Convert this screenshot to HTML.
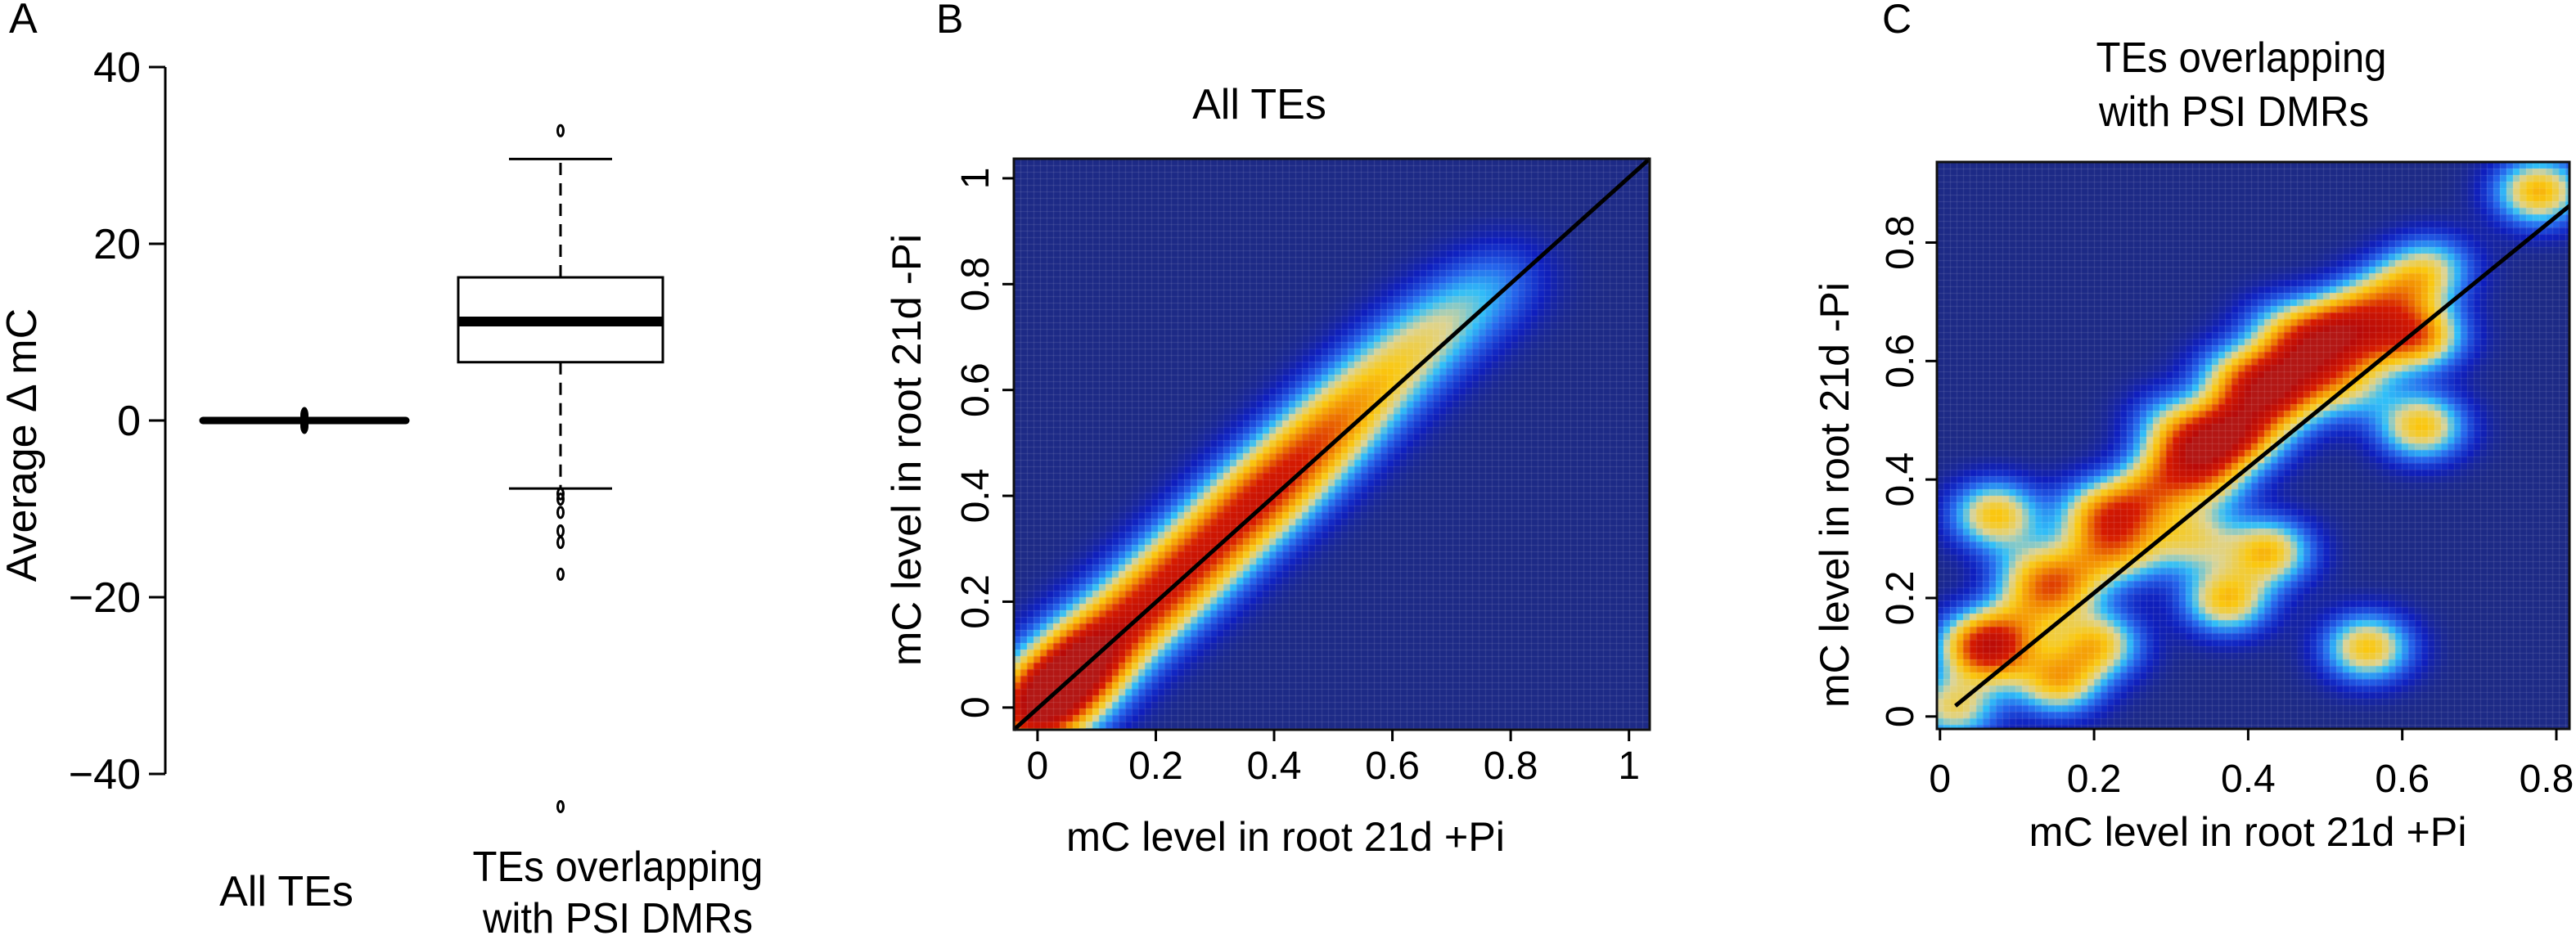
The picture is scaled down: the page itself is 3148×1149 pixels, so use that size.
<!DOCTYPE html>
<html><head><meta charset="utf-8">
<style>
html,body{margin:0;padding:0;background:#fff;}
svg{display:block;font-family:"Liberation Sans",sans-serif;}
</style></head>
<body>
<svg id="fig" width="3148" height="1149" viewBox="0 0 3148 1149" xmlns="http://www.w3.org/2000/svg">
<g id="panelA"></g>
<g id="panelB"></g>
<g id="panelC"></g>
</svg>
<script>
// ---------- Panel A data ----------
const boxCategories = ["All TEs", "TEs overlapping|with PSI DMRs"];
const boxQ1 = [0, 6.6];
const boxMedian = [0, 11.2];
const boxQ3 = [0, 16.2];
const boxWhiskerLow = [0, -7.7];
const boxWhiskerHigh = [0, 29.6];
const outliersAll = [0.6, -0.6, 0.3, -0.3];
const outliersPSI = [32.8, -8.3, -8.9, -10.4, -12.5, -13.8, -17.4, -43.7];
const aTicks = [40, 20, 0, -20, -40];

// ---------- Panel B data (ridge of density along diagonal) ----------
const bRidgeX = [-0.02,0.01,0.04,0.07,0.1,0.15,0.2,0.25,0.3,0.35,0.4,0.45,0.5,0.55,0.6,0.65,0.7,0.75,0.8];
const bRidgeY = [-0.02,0.01,0.04,0.075,0.11,0.16,0.21,0.262,0.315,0.37,0.42,0.475,0.53,0.585,0.64,0.69,0.735,0.78,0.82];
const bRidgeW = [0.8,0.8,0.8,0.8,0.85,0.85,0.85,0.85,0.85,0.85,0.85,0.8,0.72,0.6,0.5,0.42,0.34,0.26,0.16];
const bTicks = [0, 0.2, 0.4, 0.6, 0.8, 1];
const bTickLabels = ["0", "0.2", "0.4", "0.6", "0.8", "1"];

// ---------- Panel C data (density blobs) ----------
const cBlobX = [0.777,0.072,0.372,0.426,0.555,0.625,0.625,0.33,0.204,0.153,0.053,0.018,0.10,0.07,0.12,
  0.16,0.2,0.22,0.26,0.29,0.32,0.35,0.38,0.41,0.44,0.47,0.50,0.53,0.57,0.61,0.64,
  0.35,0.40,0.45,0.50,0.55,0.30,0.38,0.44,0.25,0.20,0.13,0.54,0.59];
const cBlobY = [0.886,0.34,0.197,0.278,0.116,0.49,0.643,0.30,0.122,0.06,0.122,0.016,0.15,0.10,0.25,
  0.22,0.27,0.33,0.36,0.40,0.45,0.46,0.50,0.55,0.58,0.62,0.65,0.67,0.70,0.73,0.76,
  0.40,0.47,0.53,0.58,0.62,0.50,0.58,0.66,0.28,0.35,0.20,0.55,0.64];
const cBlobW = [0.45,0.42,0.42,0.42,0.42,0.42,0.42,0.30,0.40,0.42,0.45,0.35,0.22,0.25,0.20,
  0.28,0.25,0.28,0.28,0.28,0.28,0.30,0.30,0.28,0.28,0.28,0.28,0.26,0.25,0.24,0.22,
  0.28,0.28,0.28,0.26,0.22,0.18,0.20,0.16,0.22,0.18,0.20,0.16,0.16];
const cXTicks = [0, 0.2, 0.4, 0.6, 0.8];
const cXTickLabels = ["0", "0.2", "0.4", "0.6", "0.8"];
const cYTicks = [0, 0.2, 0.4, 0.6, 0.8];
const cYTickLabels = ["0", "0.2", "0.4", "0.6", "0.8"];

const NS = "http://www.w3.org/2000/svg";
function mk(parent, tag, attrs, text) {
  const e = document.createElementNS(NS, tag);
  for (const k in attrs) e.setAttribute(k, attrs[k]);
  if (text !== undefined) e.textContent = text;
  parent.appendChild(e);
  return e;
}

// ================= Panel A =================
(function(){
  const g = document.getElementById("panelA");
  const y = v => 514 - v * 10.8;
  const xc = [372, 685];
  const halfW = [124, 125];
  let t = mk(g, "text", {x: 11, y: 40, "font-size": 52}, "A");
  
  
  let ax = mk(g, "line", {x1: 202, x2: 202, y1: y(40), y2: y(-40), stroke: "#000", "stroke-width": 3});
  
  
  aTicks.forEach(v => {
    const tk = mk(g, "line", {x1: 182, x2: 202, y1: y(v), y2: y(v), stroke: "#000", "stroke-width": 3});
    
    
    const lb = mk(g, "text", {x: 172, y: y(v) + 18, "font-size": 52, "text-anchor": "end"}, v < 0 ? "\u2212" + Math.abs(v) : String(v));
    
    
  });
  const yt = mk(g, "text", {x: 0, y: 0, "font-size": 52, "text-anchor": "middle", transform: "translate(44,544) rotate(-90)"}, "Average \u0394 mC");
  
  

  const i0 = 0;
  const flat = mk(g, "line", {x1: xc[i0]-halfW[i0], x2: xc[i0]+halfW[i0], y1: y(boxMedian[i0]), y2: y(boxMedian[i0]), stroke: "#000", "stroke-width": 9, "stroke-linecap": "round"});
  
  
  outliersAll.forEach(v => {
    const o = mk(g, "ellipse", {cx: xc[i0], cy: y(v), rx: 5, ry: 10, fill: "#000"});
    
    
  });

  const i = 1, cx = xc[i];
  const wl = mk(g, "line", {x1: cx, x2: cx, y1: y(boxQ3[i]), y2: y(boxWhiskerHigh[i]), stroke: "#000", "stroke-width": 3, "stroke-dasharray": "15,10"});
  
  
  const wl2 = mk(g, "line", {x1: cx, x2: cx, y1: y(boxQ1[i]), y2: y(boxWhiskerLow[i]), stroke: "#000", "stroke-width": 3, "stroke-dasharray": "15,10"});
  
  
  [boxWhiskerHigh[i], boxWhiskerLow[i]].forEach(v => {
    const c = mk(g, "line", {x1: cx-63, x2: cx+63, y1: y(v), y2: y(v), stroke: "#000", "stroke-width": 3});
    
    
  });
  const r = mk(g, "rect", {x: cx-halfW[i], y: y(boxQ3[i]), width: 2*halfW[i], height: y(boxQ1[i]) - y(boxQ3[i]), fill: "#fff", stroke: "#000", "stroke-width": 3});
  
  
  const md = mk(g, "line", {x1: cx-halfW[i], x2: cx+halfW[i], y1: y(boxMedian[i]), y2: y(boxMedian[i]), stroke: "#000", "stroke-width": 12});
  
  
  outliersPSI.forEach(v => {
    const o = mk(g, "ellipse", {cx: cx, cy: y(v), rx: 3.5, ry: 6.5, fill: "none", stroke: "#000", "stroke-width": 3});
    
    
  });
  const l1 = mk(g, "text", {x: 350, y: 1107, "font-size": 52, "text-anchor": "middle"}, boxCategories[0]);
  
  
  const parts = boxCategories[1].split("|");
  const l2 = mk(g, "text", {x: 755, y: 1077, "font-size": 52, "text-anchor": "middle", textLength: 355, lengthAdjust: "spacingAndGlyphs"}, parts[0]);
  
  
  const l3 = mk(g, "text", {x: 755, y: 1140, "font-size": 52, "text-anchor": "middle", textLength: 330, lengthAdjust: "spacingAndGlyphs"}, parts[1]);
  
  
})();

// ================= colour map =================
const stops = [
  [0.00, [29,42,134]], [0.06, [14,30,190]], [0.16, [36,100,236]], [0.26, [48,190,248]],
  [0.36, [220,212,150]], [0.48, [250,200,16]], [0.60, [242,136,0]], [0.74, [214,26,0]],
  [0.90, [184,10,8]], [1.00, [168,52,52]]
];
function cmap(v) {
  v = Math.max(0, Math.min(1, v));
  for (let k = 1; k < stops.length; k++) {
    if (v <= stops[k][0]) {
      const a = stops[k-1], b = stops[k], t = (v - a[0]) / (b[0] - a[0]);
      return a[1].map((c, j) => Math.round(c + (b[1][j] - c) * t));
    }
  }
  return stops[stops.length-1][1];
}

function density(parent, rect, xdom, ydom, px, py, pw, sx, sy, scale, cell, name) {
  const fo = mk(parent, "foreignObject", {x: rect.x, y: rect.y, width: rect.w, height: rect.h});
  
  
  const cv = document.createElement("canvas");
  cv.width = rect.w; cv.height = rect.h;
  cv.style.display = "block";
  fo.appendChild(cv);
  const ctx = cv.getContext("2d");
  const nx = Math.ceil(rect.w / cell), ny = Math.ceil(rect.h / cell);
  for (let i = 0; i < nx; i++) {
    for (let j = 0; j < ny; j++) {
      const dx = xdom[0] + (i + 0.5) * cell / rect.w * (xdom[1] - xdom[0]);
      const dy = ydom[1] - (j + 0.5) * cell / rect.h * (ydom[1] - ydom[0]);
      let d = 0;
      for (let k = 0; k < px.length; k++) {
        const ex = (dx - px[k]) / sx, ey = (dy - py[k]) / sy;
        d += pw[k] * Math.exp(-0.5 * (ex*ex + ey*ey));
      }
      const c = cmap(Math.min(0.93, d * scale));
      ctx.fillStyle = "rgb(" + c.join(",") + ")";
      ctx.fillRect(i * cell, j * cell, cell, cell);
    }
  }
  ctx.strokeStyle = "rgba(255,255,255,0.12)";
  ctx.lineWidth = 1;
  for (let i = 0; i <= nx; i++) { ctx.beginPath(); ctx.moveTo(i*cell+0.5, 0); ctx.lineTo(i*cell+0.5, rect.h); ctx.stroke(); }
  for (let j = 0; j <= ny; j++) { ctx.beginPath(); ctx.moveTo(0, j*cell+0.5); ctx.lineTo(rect.w, j*cell+0.5); ctx.stroke(); }
}

// ================= Panel B =================
(function(){
  const g = document.getElementById("panelB");
  const R = {x: 1239, y: 194, w: 777, h: 698};
  const xd = [-0.04, 1.035], yd = [-0.042, 1.037];
  const X = v => R.x + (v - xd[0]) / (xd[1] - xd[0]) * R.w;
  const Y = v => R.y + R.h - (v - yd[0]) / (yd[1] - yd[0]) * R.h;
  density(g, R, xd, yd, bRidgeX, bRidgeY, bRidgeW, 0.055, 0.055, 0.5, 8, "density-heatmap-b");
  const dl = mk(g, "line", {x1: X(xd[0]), y1: Y(yd[0]), x2: X(xd[1]), y2: Y(yd[1]), stroke: "#000", "stroke-width": 5});
  
  
  const fr = mk(g, "rect", {x: R.x, y: R.y, width: R.w, height: R.h, fill: "none", stroke: "#111", "stroke-width": 3});
  
  
  bTicks.forEach((v, k) => {
    const tx = mk(g, "line", {x1: X(v), x2: X(v), y1: R.y + R.h, y2: R.y + R.h + 14, stroke: "#000", "stroke-width": 3});
    
    
    const lx = mk(g, "text", {x: X(v), y: 952, "font-size": 48, "text-anchor": "middle"}, bTickLabels[k]);
    
    
    const ty = mk(g, "line", {x1: R.x - 14, x2: R.x, y1: Y(v), y2: Y(v), stroke: "#000", "stroke-width": 3});
    
    
    const ly = mk(g, "text", {x: 0, y: 0, "font-size": 48, "text-anchor": "middle", transform: "translate(1208," + Y(v) + ") rotate(-90)"}, bTickLabels[k]);
    
    
  });
  let t = mk(g, "text", {x: 1144, y: 40, "font-size": 50}, "B");
  
  
  t = mk(g, "text", {x: 1539, y: 145, "font-size": 52, "text-anchor": "middle"}, "All TEs");
  
  
  t = mk(g, "text", {x: 1571, y: 1040, "font-size": 50, "text-anchor": "middle", textLength: 536, lengthAdjust: "spacingAndGlyphs"}, "mC level in root 21d +Pi");
  
  
  t = mk(g, "text", {x: 0, y: 0, "font-size": 50, "text-anchor": "middle", textLength: 528, lengthAdjust: "spacingAndGlyphs", transform: "translate(1125,550) rotate(-90)"}, "mC level in root 21d -Pi");
  
  
})();

// ================= Panel C =================
(function(){
  const g = document.getElementById("panelC");
  const R = {x: 2367, y: 198, w: 773, h: 693};
  const xd = [-0.004, 0.817], yd = [-0.021, 0.936];
  const X = v => R.x + (v - xd[0]) / (xd[1] - xd[0]) * R.w;
  const Y = v => R.y + R.h - (v - yd[0]) / (yd[1] - yd[0]) * R.h;
  density(g, R, xd, yd, cBlobX, cBlobY, cBlobW, 0.038, 0.038, 1.15, 8, "density-heatmap-c");
  const dl = mk(g, "line", {x1: X(0.02), y1: Y(0.018), x2: X(0.817), y2: Y(0.862), stroke: "#000", "stroke-width": 5});
  
  
  const fr = mk(g, "rect", {x: R.x, y: R.y, width: R.w, height: R.h, fill: "none", stroke: "#111", "stroke-width": 3});
  
  
  cXTicks.forEach((v, k) => {
    const tx = mk(g, "line", {x1: X(v), x2: X(v), y1: R.y + R.h, y2: R.y + R.h + 14, stroke: "#000", "stroke-width": 3});
    
    
    const lx = mk(g, "text", {x: Math.min(X(v), 3112), y: 968, "font-size": 48, "text-anchor": "middle"}, cXTickLabels[k]);
    
    
  });
  cYTicks.forEach((v, k) => {
    const ty = mk(g, "line", {x1: R.x - 14, x2: R.x, y1: Y(v), y2: Y(v), stroke: "#000", "stroke-width": 3});
    
    
    const ly = mk(g, "text", {x: 0, y: 0, "font-size": 48, "text-anchor": "middle", transform: "translate(2338," + Y(v) + ") rotate(-90)"}, cYTickLabels[k]);
    
    
  });
  let t = mk(g, "text", {x: 2300, y: 40, "font-size": 50}, "C");
  
  
  t = mk(g, "text", {x: 2739, y: 88, "font-size": 52, "text-anchor": "middle", textLength: 355, lengthAdjust: "spacingAndGlyphs"}, "TEs overlapping");
  
  
  t = mk(g, "text", {x: 2730, y: 154, "font-size": 52, "text-anchor": "middle", textLength: 330, lengthAdjust: "spacingAndGlyphs"}, "with PSI DMRs");
  
  
  t = mk(g, "text", {x: 2747, y: 1034, "font-size": 50, "text-anchor": "middle", textLength: 535, lengthAdjust: "spacingAndGlyphs"}, "mC level in root 21d +Pi");
  
  
  t = mk(g, "text", {x: 0, y: 0, "font-size": 50, "text-anchor": "middle", textLength: 520, lengthAdjust: "spacingAndGlyphs", transform: "translate(2259,605) rotate(-90)"}, "mC level in root 21d -Pi");
  
  
})();
</script>
</body></html>
